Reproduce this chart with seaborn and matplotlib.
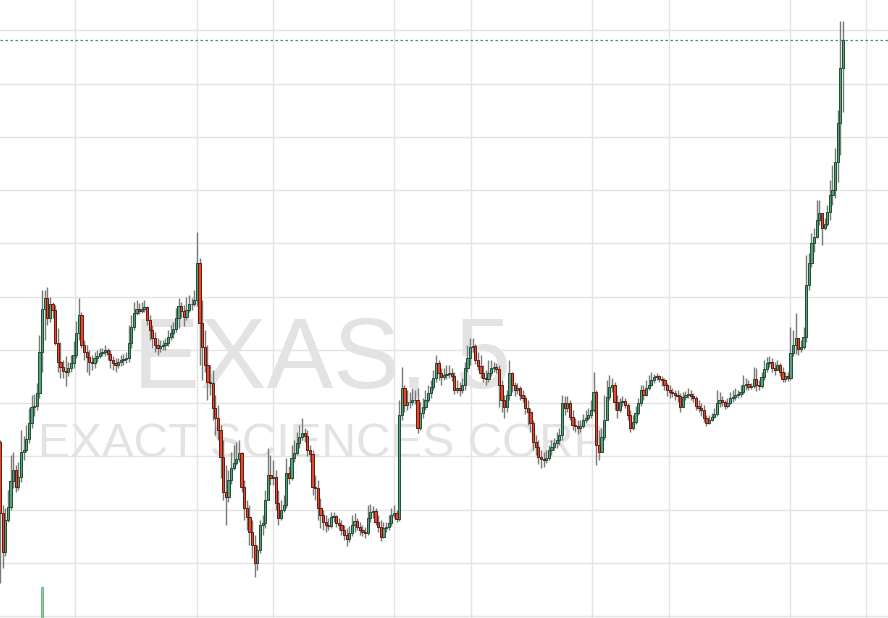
import numpy as np
import pandas as pd
import matplotlib
matplotlib.use('Agg')
import matplotlib.pyplot as plt
import seaborn as sns

ticker = 'EXAS, 5'
company = 'EXACT SCIENCES CORP'

# prices in cents, 5 minute bars; open of each bar = previous close
first_open = 6558
close_c = [6487, 6448, 6480, 6493, 6519, 6530, 6513, 6523, 6548, 6550,
           6561, 6577, 6593, 6594, 6607, 6648, 6691, 6702, 6682, 6696,
           6690, 6657, 6638, 6633, 6629, 6628, 6632, 6637, 6645, 6667,
           6685, 6655, 6648, 6643, 6638, 6637, 6642, 6644, 6647, 6648,
           6650, 6646, 6640, 6637, 6635, 6638, 6640, 6641, 6642, 6657,
           6673, 6687, 6691, 6689, 6691, 6693,
           6680, 6670, 6662, 6655, 6652, 6654, 6655, 6657, 6663, 6667,
           6671, 6682, 6694, 6689, 6683, 6690, 6696, 6696, 6700, 6737,
           6677, 6653, 6635, 6618, 6617, 6592, 6582, 6570, 6543, 6508,
           6503, 6520, 6532, 6537, 6541, 6547, 6513, 6492, 6483, 6468,
           6455, 6437, 6450, 6475, 6477, 6500, 6525, 6522, 6523, 6497,
           6482, 6490, 6495, 6527,
           6522, 6542, 6547, 6557, 6563, 6567, 6564, 6550, 6546, 6513,
           6512, 6492, 6485, 6478, 6475, 6474, 6483, 6484, 6477, 6475,
           6470, 6465, 6461, 6467, 6475, 6479, 6473, 6470, 6468, 6467,
           6482, 6488, 6489, 6478, 6473, 6463, 6472, 6473, 6477, 6485,
           6487, 6481, 6585, 6612, 6595, 6598, 6598, 6600, 6600, 6572,
           6587, 6593, 6600, 6607, 6613,
           6622, 6637, 6627, 6623, 6625, 6626, 6627, 6624, 6610, 6612,
           6610, 6615, 6632, 6642, 6653, 6654, 6640, 6634, 6627, 6622,
           6621, 6627, 6632, 6633, 6631, 6615, 6600, 6593, 6605, 6627,
           6615, 6610, 6612, 6605, 6602, 6592, 6588, 6577, 6558, 6553,
           6543, 6541, 6540, 6542, 6550, 6553, 6557, 6560, 6565, 6597,
           6592, 6597, 6583,
           6575, 6574, 6572, 6574, 6580, 6582, 6585, 6590, 6608, 6555,
           6548, 6563, 6580, 6603, 6613, 6615, 6598, 6590, 6598, 6599,
           6595, 6585, 6572, 6578, 6587, 6597, 6610, 6605, 6612, 6615,
           6620, 6623, 6624, 6621, 6620, 6615, 6610, 6608, 6607, 6605,
           6604, 6593, 6603, 6605, 6606, 6604, 6602, 6594, 6592, 6590,
           6582, 6577, 6580, 6583, 6586,
           6597, 6600, 6598, 6594, 6597, 6602, 6603, 6605, 6606, 6608,
           6615, 6616, 6613, 6614, 6621, 6615, 6614, 6623, 6631, 6637,
           6638, 6632, 6630, 6635, 6628, 6621, 6624, 6622, 6647, 6655,
           6662, 6651, 6653, 6663, 6715, 6737, 6757, 6763, 6780, 6787,
           6772, 6776, 6788, 6805, 6810, 6838, 6877, 6932, 6960]

high_c = [6560, 6495, 6492, 6510, 6545, 6548, 6535, 6538, 6570, 6564,
          6575, 6592, 6605, 6606, 6617, 6665, 6710, 6710, 6713, 6703,
          6698, 6695, 6672, 6658, 6640, 6644, 6638, 6645, 6659, 6679,
          6702, 6688, 6660, 6655, 6650, 6645, 6648, 6650, 6652, 6652,
          6655, 6652, 6650, 6644, 6642, 6642, 6645, 6646, 6648, 6675,
          6685, 6698, 6700, 6697, 6698, 6700,
          6694, 6685, 6675, 6668, 6662, 6660, 6660, 6662, 6670, 6675,
          6678, 6692, 6702, 6698, 6695, 6703, 6705, 6702, 6710, 6768,
          6742, 6700, 6670, 6655, 6635, 6630, 6605, 6595, 6575, 6560,
          6535, 6530, 6548, 6555, 6558, 6560, 6548, 6520, 6500, 6495,
          6480, 6465, 6455, 6480, 6485, 6510, 6552, 6545, 6540, 6530,
          6510, 6500, 6505, 6542,
          6534, 6555, 6560, 6568, 6575, 6582, 6572, 6570, 6555, 6550,
          6525, 6520, 6502, 6490, 6485, 6482, 6488, 6488, 6485, 6482,
          6480, 6475, 6472, 6474, 6485, 6487, 6482, 6478, 6475, 6473,
          6495, 6496, 6494, 6492, 6485, 6480, 6478, 6478, 6485, 6492,
          6495, 6490, 6600, 6633, 6615, 6610, 6608, 6612, 6610, 6612,
          6598, 6602, 6610, 6615, 6620,
          6630, 6645, 6640, 6632, 6632, 6635, 6635, 6632, 6628, 6620,
          6618, 6622, 6638, 6655, 6662, 6662, 6656, 6648, 6645, 6635,
          6630, 6640, 6640, 6638, 6637, 6635, 6620, 6605, 6610, 6640,
          6628, 6618, 6617, 6614, 6610, 6605, 6600, 6592, 6580, 6565,
          6560, 6550, 6548, 6550, 6555, 6560, 6562, 6568, 6572, 6605,
          6604, 6604, 6600,
          6590, 6582, 6580, 6580, 6586, 6590, 6592, 6600, 6628, 6610,
          6570, 6572, 6605, 6620, 6625, 6622, 6618, 6605, 6602, 6604,
          6602, 6597, 6590, 6585, 6594, 6602, 6615, 6615, 6620, 6625,
          6628, 6626, 6627, 6625, 6624, 6622, 6617, 6615, 6612, 6610,
          6610, 6607, 6608, 6609, 6612, 6610, 6607, 6604, 6600, 6597,
          6595, 6585, 6585, 6587, 6592,
          6610, 6608, 6604, 6600, 6602, 6608, 6610, 6612, 6610, 6615,
          6625, 6622, 6620, 6617, 6633, 6632, 6620, 6628, 6640, 6643,
          6644, 6642, 6638, 6640, 6637, 6633, 6628, 6628, 6673, 6670,
          6687, 6662, 6660, 6673, 6745, 6747, 6767, 6772, 6800, 6800,
          6787, 6782, 6795, 6820, 6835, 6852, 6890, 6979, 6979]

low_c = [6417, 6432, 6444, 6478, 6490, 6512, 6508, 6510, 6518, 6540,
         6548, 6557, 6572, 6584, 6590, 6602, 6628, 6660, 6675, 6678,
         6682, 6655, 6628, 6622, 6622, 6614, 6624, 6628, 6632, 6642,
         6660, 6652, 6640, 6628, 6625, 6630, 6632, 6638, 6642, 6644,
         6644, 6640, 6632, 6630, 6628, 6632, 6634, 6635, 6637, 6638,
         6652, 6670, 6685, 6686, 6687, 6688,
         6675, 6660, 6652, 6648, 6645, 6648, 6650, 6650, 6654, 6660,
         6662, 6668, 6672, 6682, 6674, 6680, 6688, 6690, 6694, 6694,
         6635, 6620, 6628, 6600, 6605, 6580, 6565, 6560, 6522, 6500,
         6475, 6498, 6516, 6530, 6535, 6538, 6508, 6480, 6470, 6455,
         6442, 6423, 6430, 6447, 6465, 6472, 6500, 6515, 6515, 6490,
         6475, 6480, 6488, 6492,
         6516, 6520, 6538, 6545, 6552, 6560, 6558, 6544, 6538, 6505,
         6500, 6480, 6472, 6470, 6468, 6470, 6472, 6478, 6473, 6470,
         6465, 6460, 6454, 6458, 6464, 6468, 6470, 6465, 6464, 6462,
         6465, 6478, 6482, 6475, 6468, 6459, 6462, 6468, 6470, 6474,
         6482, 6478, 6479, 6580, 6588, 6590, 6592, 6595, 6596, 6567,
         6570, 6582, 6590, 6598, 6602,
         6610, 6618, 6620, 6615, 6620, 6621, 6622, 6619, 6606, 6607,
         6604, 6607, 6610, 6628, 6635, 6648, 6636, 6630, 6622, 6618,
         6615, 6618, 6624, 6628, 6627, 6593, 6588, 6582, 6588, 6600,
         6608, 6604, 6606, 6600, 6598, 6586, 6575, 6568, 6550, 6545,
         6536, 6532, 6533, 6537, 6540, 6545, 6550, 6552, 6555, 6560,
         6585, 6588, 6580,
         6570, 6568, 6566, 6568, 6572, 6577, 6580, 6582, 6588, 6535,
         6540, 6548, 6560, 6580, 6600, 6608, 6590, 6582, 6588, 6594,
         6592, 6580, 6568, 6570, 6576, 6585, 6594, 6600, 6604, 6610,
         6614, 6617, 6620, 6618, 6614, 6610, 6604, 6602, 6603, 6600,
         6598, 6588, 6595, 6600, 6602, 6600, 6598, 6590, 6588, 6584,
         6578, 6574, 6576, 6579, 6582,
         6584, 6593, 6594, 6591, 6592, 6596, 6598, 6600, 6602, 6603,
         6606, 6610, 6610, 6611, 6612, 6609, 6610, 6612, 6620, 6628,
         6633, 6628, 6625, 6630, 6624, 6618, 6618, 6619, 6620, 6644,
         6646, 6645, 6648, 6651, 6658, 6710, 6733, 6748, 6762, 6775,
         6755, 6770, 6774, 6780, 6795, 6802, 6818, 6845, 6888]

vol_bar = [16]
vol_val = [152000]

df = pd.DataFrame({'close': np.array(close_c) / 100,
                   'high': np.array(high_c) / 100,
                   'low': np.array(low_c) / 100})
df['open'] = df['close'].shift(1).fillna(first_open / 100)
df['high'] = df[['high', 'open', 'close']].max(axis=1)
df['low'] = df[['low', 'open', 'close']].min(axis=1)
df['x'] = np.arange(len(df))

sns.set_theme(style='white')
plt.rcParams['font.family'] = ['Liberation Sans', 'DejaVu Sans']

fig = plt.figure(figsize=(8.88, 6.18), dpi=100)
ax = fig.add_axes([0, 0, 1, 1])

step = 843 / (len(df) - 1)          # pixels per bar
ax.set_xlim(0, 888 / step)
ax.set_ylim(63.82, 70.0)

# grid
ax.set_xticks(np.array([75, 197, 273, 394, 471, 592, 669, 790, 866]) / step)
ax.set_yticks(np.arange(63.84, 70.0, 0.5325))
ax.grid(True, color='#e4e4e4', lw=1)
ax.set_axisbelow(True)
ax.tick_params(left=False, bottom=False, labelleft=False, labelbottom=False)
for s in ax.spines.values():
    s.set_visible(False)

# watermark
ax.text(322 / 888, 1 - 388 / 618, ticker, transform=ax.transAxes, ha='center',
        va='baseline', fontsize=72, color='#e3e3e3', zorder=1)
ax.text(322 / 888, 1 - 457 / 618, company, transform=ax.transAxes, ha='center',
        va='baseline', fontsize=34.5, color='#e3e3e3', zorder=1)

# candles
ax.vlines(df['x'], df['low'], df['high'], color='#7a7a7a', lw=1.0, zorder=2)
up = df[df['close'] >= df['open']]
dn = df[df['close'] < df['open']]
ax.bar(up['x'], up['close'] - up['open'], bottom=up['open'], width=0.85,
       color='#56a27a', edgecolor='#1e4d33', lw=0.7, zorder=3)
ax.bar(dn['x'], dn['close'] - dn['open'], bottom=dn['open'], width=0.85,
       color='#e8472c', edgecolor='#5c1a10', lw=0.7, zorder=3)

# last price line
ax.axhline(df['close'].iloc[-1], color='#4d8f6c', lw=0.9, ls=(0, (2, 2)), zorder=2)

# volume
ax2 = ax.twinx()
ax2.bar(vol_bar, vol_val, width=0.7, color='#8fd0a0', edgecolor='#5fae78', lw=0.6)
ax2.set_ylim(0, vol_val[0] / 0.05)
ax2.set_axis_off()

fig.savefig('out.png', dpi=100)
